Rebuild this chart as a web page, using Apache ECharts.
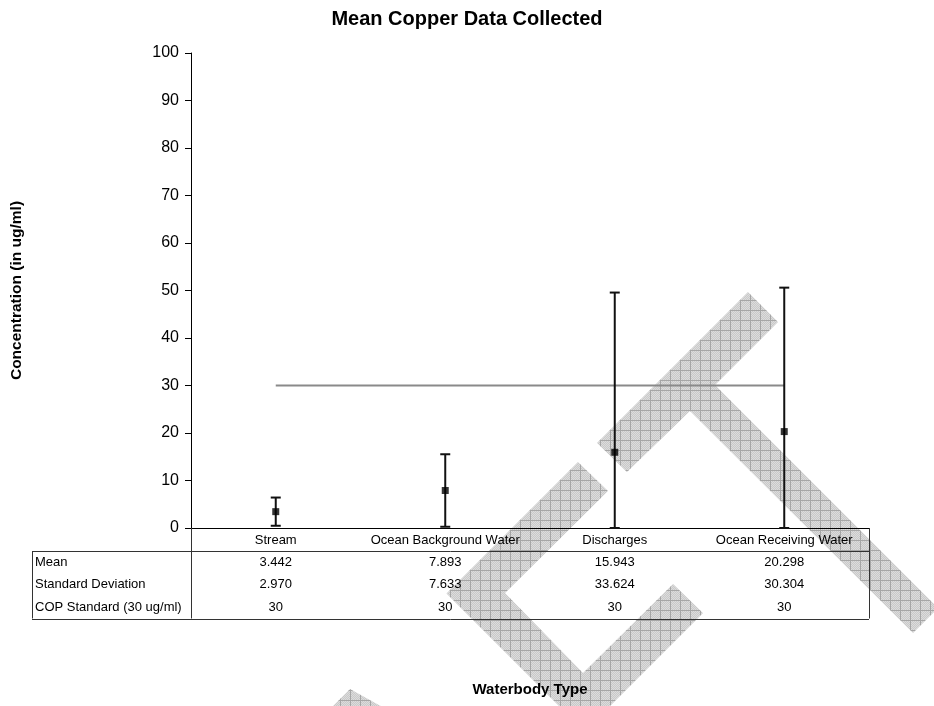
<!DOCTYPE html>
<html>
<head>
<meta charset="utf-8">
<script src="https://cdn.jsdelivr.net/npm/echarts@6/dist/echarts.min.js"></script>
<style>
  html, body { margin: 0; padding: 0; background: #ffffff; }
  #chart { width: 934px; height: 706px; }
</style>
</head>
<body>
<div id="chart"></div>
<script>
// Mean copper concentration per waterbody type, with ±1 standard deviation
const categories = ['Stream', 'Ocean Background Water', 'Discharges', 'Ocean Receiving Water'];
const meanValues = [3.442, 7.893, 15.943, 20.298];
const stdDevValues = [2.970, 7.633, 33.624, 30.304];
const copStandard = [30, 30, 30, 30];
const rowLabels = ['Mean', 'Standard Deviation', 'COP Standard (30 ug/ml)'];
const yMin = 0, yMax = 100, yInterval = 10;

const FONT = '"Liberation Sans", Arial, Helvetica, sans-serif';

// error bar ends: mean ± SD, floored at the axis minimum
const errorBars = categories.map((c, i) => [
  i,
  Math.max(yMin, meanValues[i] - stdDevValues[i]),
  meanValues[i] + stdDevValues[i]
]);

// table rows shown under the axis
const tableRows = [
  meanValues.map(v => v.toFixed(3)),
  stdDevValues.map(v => v.toFixed(3)),
  copStandard.map(v => String(v))
];

// hatched fill used for the background stamp
function makeHatch() {
  const c = document.createElement('canvas');
  c.width = 10; c.height = 10;
  const ctx = c.getContext('2d');
  for (let y = 0; y < 10; y++) {
    for (let x = 0; x < 10; x++) {
      if (x === 0 || y === 0) ctx.fillStyle = '#a6a6a6';
      else ctx.fillStyle = ((x + y) % 2) ? '#c9c9c9' : '#dcdcdc';
      ctx.fillRect(x, y, 1, 1);
    }
  }
  return c;
}
const hatch = { image: makeHatch(), repeat: 'repeat' };

const chart = echarts.init(document.getElementById('chart'), null, { renderer: 'canvas' });

const option = {
  animation: false,
  backgroundColor: '#ffffff',
  textStyle: { fontFamily: FONT },
  title: {
    text: 'Mean Copper Data Collected',
    left: 'center',
    top: 4,
    textStyle: { fontFamily: FONT, fontSize: 20, fontWeight: 'bold', color: '#000' }
  },
  grid: { left: 191, right: 65, top: 53, bottom: 178, containLabel: false },
  xAxis: {
    type: 'category',
    data: categories,
    boundaryGap: true,
    name: 'Waterbody Type',
    nameLocation: 'middle',
    nameGap: 154,
    nameTextStyle: { fontFamily: FONT, fontSize: 15, fontWeight: 'bold', color: '#000' },
    axisLine: { lineStyle: { color: '#000', width: 1 } },
    axisTick: { show: false },
    axisLabel: { fontFamily: FONT, fontSize: 13, color: '#000', margin: 6, interval: 0 },
    splitLine: { show: false }
  },
  yAxis: {
    type: 'value',
    min: yMin,
    max: yMax,
    interval: yInterval,
    name: 'Concentration (in ug/ml)',
    nameLocation: 'middle',
    nameRotate: 90,
    nameGap: 166,
    nameTextStyle: { fontFamily: FONT, fontSize: 15.5, fontWeight: 'bold', color: '#000' },
    axisLine: { show: true, lineStyle: { color: '#000', width: 1 } },
    axisTick: { show: true, inside: false, length: 6, lineStyle: { color: '#000' } },
    axisLabel: { fontFamily: FONT, fontSize: 16, color: '#000', margin: 12 },
    splitLine: { show: false }
  },
  series: [
    {
      name: 'COP Standard (30 ug/ml)',
      type: 'line',
      data: copStandard,
      symbol: 'none',
      z: 2,
      lineStyle: { color: '#8a8a8a', width: 2 }
    },
    {
      name: 'Standard Deviation',
      type: 'custom',
      data: errorBars,
      z: 3,
      renderItem: function (params, api) {
        const i = api.value(0);
        const lo = api.coord([i, api.value(1)]);
        const hi = api.coord([i, api.value(2)]);
        const half = 5;
        const style = { stroke: '#111', lineWidth: 2 };
        return {
          type: 'group',
          children: [
            { type: 'line', shape: { x1: lo[0], y1: lo[1], x2: hi[0], y2: hi[1] }, style: style },
            { type: 'line', shape: { x1: hi[0] - half, y1: hi[1], x2: hi[0] + half, y2: hi[1] }, style: style },
            { type: 'line', shape: { x1: lo[0] - half, y1: lo[1], x2: lo[0] + half, y2: lo[1] }, style: style }
          ]
        };
      }
    },
    {
      name: 'Mean',
      type: 'scatter',
      data: meanValues,
      symbol: 'rect',
      symbolSize: 7,
      z: 4,
      itemStyle: { color: '#000' }
    }
  ]
};

chart.setOption(option);

// data table and background stamp, placed from the axis geometry
const gridRect = chart.getModel().getComponent('grid').coordinateSystem.getRect();
const axisX0 = gridRect.x, axisX1 = gridRect.x + gridRect.width;
const axisY = gridRect.y + gridRect.height;
const headerH = 23, rowH = 22.5, tableLeft = 32;
const rowsTop = axisY + headerH;
const tableBottom = rowsTop + rowH * rowLabels.length;
const lineStyle = { stroke: '#333', lineWidth: 1 };
const crisp = v => Math.round(v) + 0.5;

const graphics = [];

// stamp shapes
const stampShapes = [
  [[748, 292], [778, 322], [715, 385], [938, 608], [913, 633], [690, 411], [627, 472], [597, 443]],
  [[578, 462], [608, 491], [505, 593], [583, 673], [673, 584], [703, 613], [584.5, 731.5], [446.5, 593.5]],
  [[350, 689], [386, 709], [330, 709]]
];
stampShapes.forEach(pts => {
  graphics.push({ type: 'polygon', z: -10, silent: true, shape: { points: pts }, style: { fill: hatch, stroke: null } });
});

// table borders
graphics.push(
  { type: 'line', z: 10, shape: { x1: crisp(axisX0), y1: axisY, x2: crisp(axisX0), y2: tableBottom }, style: lineStyle },
  { type: 'line', z: 10, shape: { x1: crisp(axisX1), y1: axisY, x2: crisp(axisX1), y2: tableBottom }, style: lineStyle },
  { type: 'line', z: 10, shape: { x1: tableLeft, y1: crisp(rowsTop), x2: axisX1, y2: crisp(rowsTop) }, style: lineStyle },
  { type: 'line', z: 10, shape: { x1: tableLeft, y1: crisp(tableBottom), x2: axisX1, y2: crisp(tableBottom) }, style: lineStyle },
  { type: 'line', z: 10, shape: { x1: crisp(tableLeft), y1: rowsTop, x2: crisp(tableLeft), y2: tableBottom }, style: lineStyle }
);

// row labels and values
rowLabels.forEach((label, r) => {
  const cy = rowsTop + rowH * (r + 0.5);
  graphics.push({
    type: 'text', z: 10, x: tableLeft + 3, y: cy,
    style: { text: label, font: '13px ' + FONT, fill: '#000', align: 'left', verticalAlign: 'middle' }
  });
  tableRows[r].forEach((val, i) => {
    const cx = chart.convertToPixel({ xAxisIndex: 0 }, i);
    graphics.push({
      type: 'text', z: 10, x: cx, y: cy,
      style: { text: val, font: '13px ' + FONT, fill: '#000', align: 'center', verticalAlign: 'middle' }
    });
  });
});

chart.setOption({ graphic: graphics });
</script>
</body>
</html>
